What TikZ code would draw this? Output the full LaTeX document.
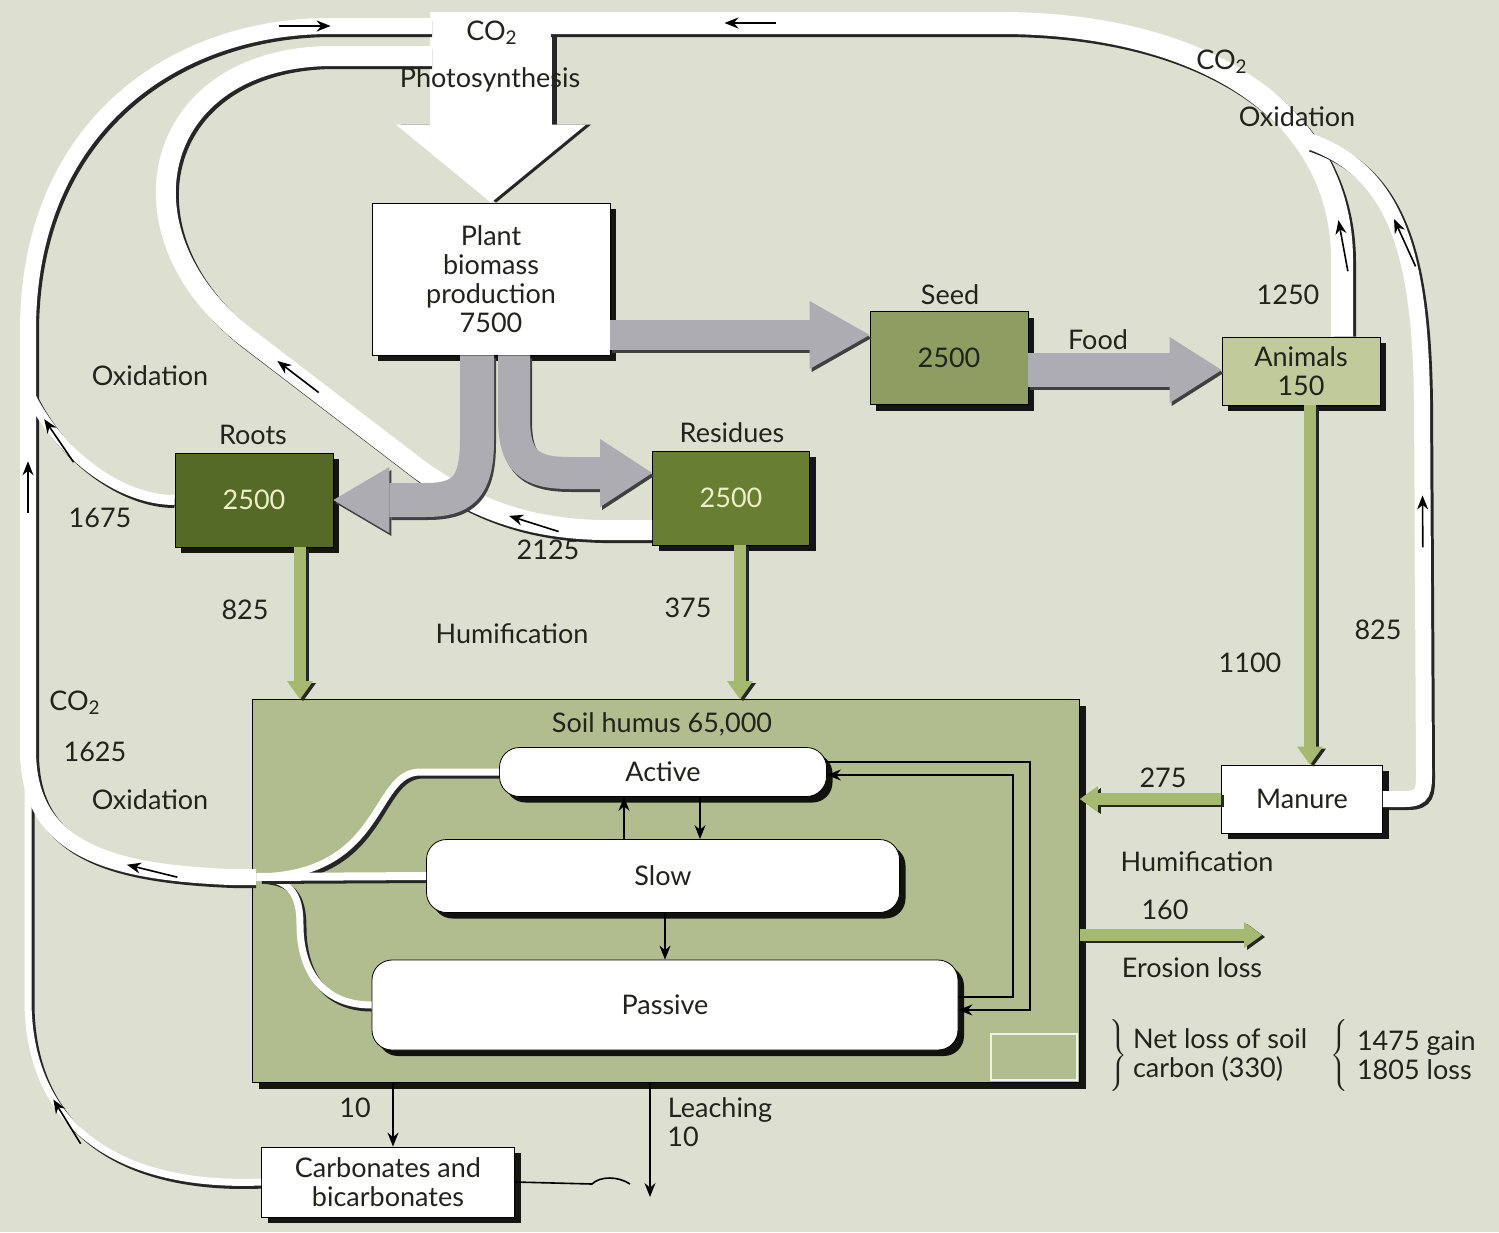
\documentclass[tikz,border=0pt]{standalone}
\usepackage{fontspec}
\setmainfont{Lato}
\usetikzlibrary{arrows.meta,calc,shadows,decorations.markings}

\definecolor{paper}{RGB}{221,223,208}
\definecolor{ink}{RGB}{35,35,30}
\definecolor{rootgreen}{RGB}{84,106,38}
\definecolor{residuegreen}{RGB}{104,126,50}
\definecolor{seedgreen}{RGB}{142,157,96}
\definecolor{animalgreen}{RGB}{192,202,154}
\definecolor{humusgreen}{RGB}{178,189,143}
\definecolor{humifygreen}{RGB}{165,186,112}
\definecolor{flowgray}{RGB}{172,172,178}
\definecolor{cream}{RGB}{238,238,200}

\begin{document}
\begin{tikzpicture}[x=0.5pt,y=-0.5pt,
  every node/.style={font=\fontsize{13.5}{14.5}\selectfont, text=ink},
  pool/.style={draw=black, thin, align=center, inner sep=2pt,
    drop shadow={shadow xshift=3pt,shadow yshift=-3pt,fill=black,opacity=.9}},
  pocket/.style={pool, fill=white, rounded corners=10pt},
  band/.style={draw=white, line width=#1,
    preaction={draw=black!85, line width=#1, shorten <=1.5pt, shorten >=1.5pt,
      transform canvas={shift={(1.5pt,-1.5pt)}}}},
  band/.default=6pt,
  thinflow/.style={draw=black, line width=0.8pt, -{Stealth[length=7pt,width=5.5pt]}},
  flowtip/.style={postaction={decorate, decoration={markings,
    mark=at position #1 with {\draw[thinflow] (-26pt,0) -- (0,0);}}}},
  bigflow/.style={draw=flowgray, line width=#1,
    preaction={draw=black!75, line width=#1, transform canvas={shift={(1pt,-1.5pt)}}}},
  humify/.style={draw=humifygreen, line width=6pt,
    -{Triangle[length=9pt,width=13pt,line width=0pt]},
    preaction={draw=black!85, line width=6pt, transform canvas={shift={(1.5pt,-1pt)}}}}]

  \fill[paper] (0,0) rectangle (1499,1232);
  \useasboundingbox (0,0) rectangle (1499,1232);

  % pools
  \node[pool, fill=white, minimum width=119pt, minimum height=76pt] (plant) at (491,279) {Plant\\biomass\\production\\7500};
  \node[pool, fill=seedgreen, minimum width=79pt, minimum height=46.5pt] (seed) at (949,358) {2500};
  \node[pool, fill=animalgreen, minimum width=79pt, minimum height=34pt] (animals) at (1301,371) {Animals\\150};
  \node[pool, fill=rootgreen, text=cream, minimum width=79pt, minimum height=47pt] (roots) at (254,500) {2500};
  \node[pool, fill=residuegreen, text=cream, minimum width=78.5pt, minimum height=47pt] (residues) at (731,498) {2500};
  \node[pool, fill=humusgreen, minimum width=413.5pt, minimum height=191.5pt] (humus) at (666,891) {};
  \node[draw=white!80!humusgreen, line width=1.2pt, fill=humusgreen, minimum width=43pt, minimum height=23pt, inner sep=0pt] (netbox) at (1034,1057) {};
  \node[pocket, minimum width=163.5pt, minimum height=24.5pt] (active) at (663,772) {Active};
  \node[pocket, minimum width=236.5pt, minimum height=36.5pt] (slow) at (663,876) {Slow};
  \node[pocket, minimum width=293pt, minimum height=45pt] (passive) at (665,1005) {Passive};
  \node[pool, fill=white, minimum width=80.5pt, minimum height=34pt] (manure) at (1302,799) {Manure};
  \node[pool, fill=white, minimum width=126.5pt, minimum height=35pt] (carb) at (388,1182) {Carbonates and\\bicarbonates};

  % photosynthesis
  \coordinate (co2top) at (491,12);
  \draw[draw=white, line width=61pt, -{Triangle[length=39pt,width=95pt,line width=0pt]},
    preaction={draw=black!85, line width=61pt, transform canvas={shift={(2.5pt,0pt)}}}] (co2top) -- (plant.north);

  % CO2 bands
  \coordinate (co2west) at (432,26);
  \coordinate (co2inner) at (432,56);
  \coordinate (co2east) at (545,23);
  \coordinate (ajoin) at (256,877);
  \coordinate (cjoin) at (28,780);
  \coordinate (rjoin) at (30,395);
  \coordinate (oxright) at (1306,140);
  \draw[band=3.5pt] (active.west) -- (420,772) .. controls (372,772) and (385,876) .. (ajoin);
  \draw[band=3.5pt] (passive.west) .. controls (318,1005) and (300,965) .. (300,925) .. controls (300,893) and (290,879) .. (ajoin);
  \draw[band=4pt] (slow.west) -- (ajoin);
  \draw[band=3.5pt, flowtip=0.42] (carb.west) .. controls (110,1188) and (28,1120) .. (28,1000) -- (cjoin);
  \draw[band=8pt, flowtip=0.1, flowtip=0.45, flowtip=0.922] (ajoin) -- (230,877) .. controls (110,872) and (28,850) .. (28,750) -- (28,330) .. controls (28,130) and (170,26) .. (330,26) -- (co2west);
  \draw[band=5pt, flowtip=0.85] (roots.west) .. controls (120,500) and (60,455) .. (rjoin);
  \draw[band=10pt, flowtip=0.148, flowtip=0.435] ($(residues.west)+(0,32)$) -- (600,530) .. controls (520,528) and (470,505) .. (420,470) -- (250,340) .. controls (110,235) and (150,58) .. (330,56) -- (co2inner);
  \draw[band=11pt, flowtip=0.117, flowtip=0.82] ($(animals.north)+(41,0)$) -- (1342,260) .. controls (1342,110) and (1200,23) .. (1000,23) -- (co2east);
  \draw[band=8pt, flowtip=0.457, flowtip=0.835] (manure.east) -- (1405,799) .. controls (1424,799) and (1424,790) .. (1424,772) -- (1422,400) .. controls (1420,250) and (1395,170) .. (oxright);

  % plant carbon
  \draw[bigflow=17pt, -{Triangle[length=28pt,width=33pt,line width=0pt]}] (plant.south -| 477,0) -- (477,440) .. controls (477,488) and (462,500) .. (425,500) -- (roots.east);
  \draw[bigflow=16pt, -{Triangle[length=26pt,width=34pt,line width=0pt]}] (plant.south -| 514,0) -- (514,418) .. controls (514,462) and (530,473) .. (570,473) -- (residues.west |- 0,473);
  \draw[bigflow=15pt, -{Triangle[length=30pt,width=34pt,line width=0pt]}] (plant.east |- 0,335) -- (seed.west |- 0,335);
  \draw[bigflow=17pt, -{Triangle[length=26pt,width=33pt,line width=0pt]}] (seed.east |- 0,370) -- (animals.west |- 0,370);

  % humification
  \coordinate (erosion) at (1262,935);
  \draw[humify] (roots.south -| 300,0) -- (humus.north -| 300,0);
  \draw[humify] (residues.south -| 740,0) -- (humus.north -| 740,0);
  \draw[humify] (animals.south -| 1310,0) -- (manure.north -| 1310,0);
  \draw[humify] (manure.west) -- (humus.east |- manure.west);
  \draw[humify] (humus.east |- erosion) -- (erosion);

  % soil pools
  \draw[thinflow] (slow.north -| 624,0) -- (active.south -| 624,0);
  \draw[thinflow] (active.south -| 700,0) -- (slow.north -| 700,0);
  \draw[thinflow] (slow.south -| passive.north) -- (passive.north);
  \draw[thinflow] (active.east |- 0,762) -- (1030,762) -- (1030,1010) -- (passive.east |- 0,1010);
  \draw[thinflow] (passive.east |- 0,997) -- (1013,997) -- (1013,775) -- (active.east |- 0,775);

  % carbonates, leaching
  \coordinate (leachend) at (650,1197);
  \coordinate (leachhop) at (630,1184);
  \draw[thinflow] (humus.south -| 393,0) -- (carb.north -| 393,0);
  \draw[thinflow] (humus.south -| leachend) -- (leachend);
  \draw[line width=0.8pt] (carb.east) -- (592,1184) .. controls (600,1176) and (618,1176) .. (leachhop);

  % labels
  \foreach \spot/\words [count=\k] in {{492,33}/CO\textsubscript{2}, {490,80}/Photosynthesis,
      {1222,62}/CO\textsubscript{2}, {1297,117}/Oxidation, {150,376}/Oxidation,
      {253,435}/Roots, {732,433}/Residues, {950,295}/Seed, {1098,340}/Food,
      {1288,295}/1250, {100,518}/1675, {548,550}/2125, {245,610}/825, {688,608}/375,
      {512,634}/Humification, {1250,663}/1100, {1378,630}/825,
      {75,703}/CO\textsubscript{2}, {95,752}/1625, {150,800}/Oxidation,
      {662,724}/{Soil humus 65,000}, {1163,778}/275, {1197,862}/Humification,
      {1165,910}/160, {1192,968}/{Erosion loss}, {355,1108}/10, {720,1110}/Leaching,
      {683,1137}/10}
    \node (note\k) at (\spot) {\words};

  \node (brace1) at (1117,1055) {$\left.\rule[-14pt]{0pt}{28pt}\right\}$};
  \node[anchor=west, align=left] (netloss) at (1126,1055) {Net loss of soil\\carbon (330)};
  \node (brace2) at (1341,1055) {$\left\{\rule[-14pt]{0pt}{28pt}\right.$};
  \node[anchor=west, align=left] (gainloss) at (1350,1055) {1475 gain\\1805 loss};
\end{tikzpicture}
\end{document}
